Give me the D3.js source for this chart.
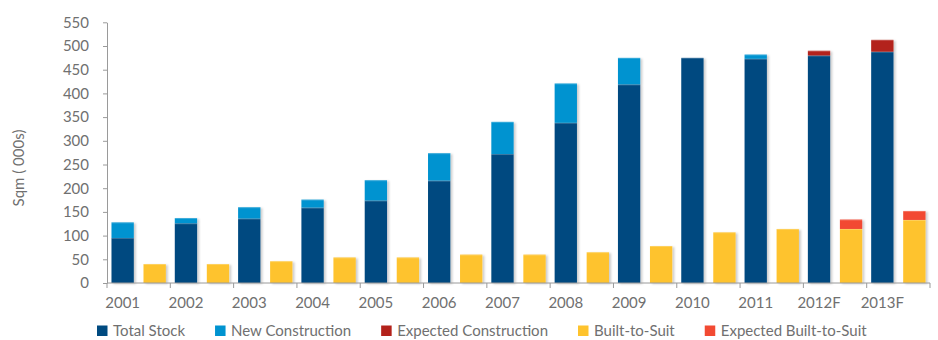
<!DOCTYPE html>
<html>
<head>
<meta charset="utf-8">
<script src="https://cdn.jsdelivr.net/npm/d3@7"></script>
<style>
  html, body { margin: 0; padding: 0; background: #fff; }
  svg text { font-family: Lato, "Open Sans", sans-serif; fill: #707070; }
</style>
</head>
<body>
<svg id="chart" width="938" height="340"></svg>
<script>
// Years along the axis (F = forecast)
const categories = ["2001", "2002", "2003", "2004", "2005", "2006", "2007",
                    "2008", "2009", "2010", "2011", "2012F", "2013F"];

// Warehouse stock, sqm (000s)
const totalStock           = [95, 126, 136, 159, 174, 216, 272, 338, 419, 475, 473, 480, 488];
const newConstruction      = [33, 11, 24, 17, 43, 58, 68, 83, 56, 0, 9, 0, 0];
const expectedConstruction = [0, 0, 0, 0, 0, 0, 0, 0, 0, 0, 0, 10, 25];
const builtToSuit          = [40, 40, 46, 54, 54, 60, 60, 65, 78, 107, 114, 114, 133];
const expectedBuiltToSuit  = [0, 0, 0, 0, 0, 0, 0, 0, 0, 0, 0, 20, 19];

const yTicks = [0, 50, 100, 150, 200, 250, 300, 350, 400, 450, 500, 550];

const seriesNames = ["Total Stock", "New Construction", "Expected Construction",
                     "Built-to-Suit", "Expected Built-to-Suit"];
const colors = {
  "Total Stock": "#004a80",
  "New Construction": "#0093d0",
  "Expected Construction": "#b3221b",
  "Built-to-Suit": "#fec32d",
  "Expected Built-to-Suit": "#f24a32"
};

// Two stacks per year: stock (+ new / expected construction) and built-to-suit
const rows = categories.map((c, i) => ({
  year: c,
  "Total Stock": totalStock[i],
  "New Construction": newConstruction[i],
  "Expected Construction": expectedConstruction[i],
  "Built-to-Suit": builtToSuit[i],
  "Expected Built-to-Suit": expectedBuiltToSuit[i]
}));
const stacks = {
  stock: d3.stack().keys(["Total Stock", "New Construction", "Expected Construction"])(rows),
  bts: d3.stack().keys(["Built-to-Suit", "Expected Built-to-Suit"])(rows)
};

const svg = d3.select("#chart");
const m = { left: 107, right: 8, top: 22.3, bottom: 57 };
const W = 938, H = 340;

const x0 = d3.scaleBand().domain(categories).range([m.left, 930]).padding(0);
const x1 = d3.scaleBand().domain(["stock", "bts"]).range([0, x0.bandwidth()])
  .paddingInner(0.303).paddingOuter(0.14);
const y = d3.scaleLinear().domain([0, 550]).range([H - m.bottom, m.top]);

// soft shadow to the right of bars
const defs = svg.append("defs");
const f = defs.append("filter").attr("id", "barShadow")
  .attr("x", "-20%").attr("y", "-5%").attr("width", "150%").attr("height", "115%");
f.append("feDropShadow").attr("dx", 2).attr("dy", 1).attr("stdDeviation", 1)
  .attr("flood-color", "#000").attr("flood-opacity", 0.2);

const barsG = svg.append("g").attr("filter", "url(#barShadow)");
Object.entries(stacks).forEach(([group, layers]) => {
  layers.forEach(layer => {
    const segs = layer.filter(d => d[1] - d[0] > 0);
    const g = barsG.append("g");
    g.selectAll("rect.seg").data(segs).join("rect").attr("class", "seg")
      .attr("fill", colors[layer.key])
      .attr("x", d => x0(d.data.year) + x1(group))
      .attr("width", x1.bandwidth())
      .attr("y", d => y(d[1]))
      .attr("height", d => y(d[0]) - y(d[1]));
    // faint highlight along each segment's top edge
    g.selectAll("rect.hl").data(segs).join("rect").attr("class", "hl")
      .attr("fill", "#fff").attr("opacity", 0.22)
      .attr("x", d => x0(d.data.year) + x1(group))
      .attr("width", x1.bandwidth())
      .attr("y", d => y(d[1]))
      .attr("height", 1);
  });
});

// Y axis
const yAxis = svg.append("g").attr("transform", `translate(${m.left},0)`)
  .call(d3.axisLeft(y).tickValues(yTicks).tickSize(4).tickPadding(14).tickSizeOuter(0));
yAxis.select(".domain").attr("stroke", "#9a9a9a");
yAxis.selectAll(".tick line").attr("stroke", "#9a9a9a");
yAxis.selectAll(".tick text").style("font-size", "15px").attr("fill", "#707070");

// X axis: ticks at band boundaries, labels under the stock bar
const xAxisG = svg.append("g").attr("transform", `translate(0,${y(0)})`);
xAxisG.append("line").attr("x1", m.left).attr("x2", 930).attr("stroke", "#9a9a9a");
const bounds = categories.map(c => x0(c)).concat([x0.range()[1]]);
xAxisG.selectAll("line.tk").data(bounds).join("line").attr("class", "tk")
  .attr("x1", d => d).attr("x2", d => d).attr("y1", 0).attr("y2", 5)
  .attr("stroke", "#9a9a9a");
xAxisG.selectAll("text").data(categories).join("text")
  .attr("x", d => x0(d) + x1("stock") + x1.bandwidth() / 2)
  .attr("y", 24.5)
  .attr("text-anchor", "middle")
  .style("font-size", "15px")
  .text(d => d);

// Y axis title
svg.append("text")
  .attr("transform", "translate(24,168) rotate(-90)")
  .attr("text-anchor", "middle")
  .style("font-size", "15px")
  .text("Sqm ( 000s)");

// Legend
const legend = svg.append("g").attr("transform", "translate(97,325.5)");
let lx = 0;
seriesNames.forEach(name => {
  const g = legend.append("g").attr("transform", `translate(${lx},0)`);
  g.append("rect").attr("width", 10.5).attr("height", 10.5).attr("fill", colors[name]);
  const t = g.append("text").attr("x", 16).attr("y", 10.2)
    .style("font-size", "15px").text(name);
  lx += 16 + t.node().getComputedTextLength() + 30;
});
</script>
</body>
</html>
